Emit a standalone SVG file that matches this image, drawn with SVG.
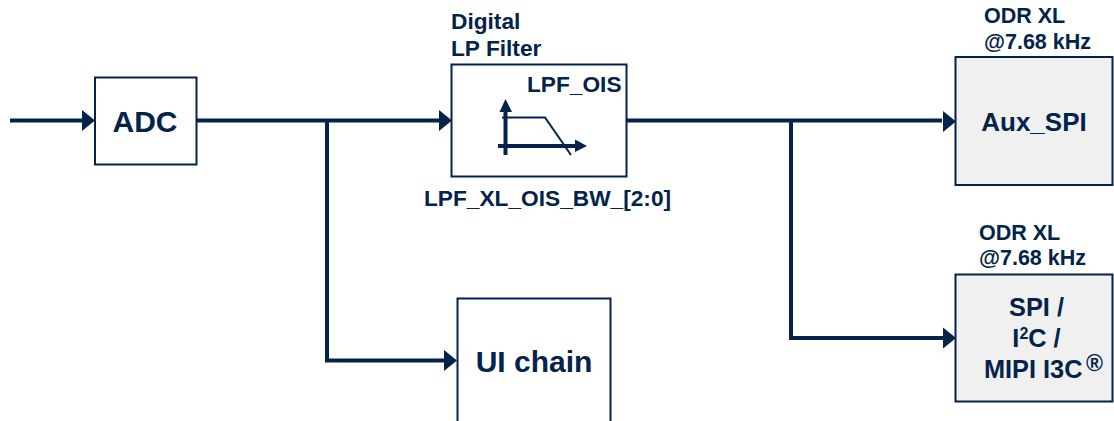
<svg xmlns="http://www.w3.org/2000/svg" width="1114" height="421" viewBox="0 0 1114 421">
<style>
text{font-family:"Liberation Sans",Arial,sans-serif;font-weight:bold;fill:#03234b}
.box{fill:#fff;stroke:#03234b;stroke-width:2}
.grey{fill:#f0f0f0;stroke:#03234b;stroke-width:2}
.wire{fill:none;stroke:#03234b;stroke-width:4}
.thin{fill:none;stroke:#03234b;stroke-width:2}
.head{fill:#03234b}
.s21{font-size:21.500px}
.s22{font-size:22.700px}
.s25{font-size:25.300px}
.s26{font-size:26px}
.s30{font-size:30px}
.m{text-anchor:middle}
</style>
<g id="connectors">
<path class="wire" d="M10 120.500H82"/>
<polygon class="head" points="82,110 95,120.500 82,131"/>
<path class="wire" d="M197 120.500H439"/>
<polygon class="head" points="439,110 452,120.500 439,131"/>
<path class="wire" d="M327 120.500V360.500H444"/>
<polygon class="head" points="444,350 457,360.500 444,371"/>
<path class="wire" d="M627 120.500H942"/>
<polygon class="head" points="943,111 956,121.500 943,132"/>
<path class="wire" d="M791 120.500V338H943"/>
<polygon class="head" points="943,327.500 956,338 943,348.500"/>
</g>
<g id="adc">
<rect class="box" x="95" y="77.500" width="101.500" height="87"/>
<text class="s30 m" x="145" y="132">ADC</text>
</g>
<g id="lpf">
<rect class="box" x="451.500" y="64.500" width="175" height="112"/>
<text class="s22" x="451" y="29">Digital</text>
<text class="s22" x="451" y="56">LP Filter</text>
<text class="s22" x="527" y="92">LPF_OIS</text>
<text class="s22" x="424" y="206">LPF_XL_OIS_BW_[2:0]</text>
<path class="wire" d="M505.500 155V110M498 146H576"/>
<polygon class="head" points="499.500,112 505.500,99 512,112"/>
<polygon class="head" points="575,139.500 587,146 575,152"/>
<path class="thin" d="M502 117.500H545L571 155"/>
</g>
<g id="ui-chain">
<rect class="box" x="457.500" y="298.500" width="153" height="124"/>
<text class="s30 m" x="534" y="372">UI chain</text>
</g>
<g id="aux-spi">
<rect class="grey" x="955.500" y="57" width="157" height="128"/>
<text class="s26 m" x="1034" y="131">Aux_SPI</text>
<text class="s21" x="984" y="23">ODR XL</text>
<text class="s21" x="984" y="49">@7.68 kHz</text>
</g>
<g id="spi-i2c-i3c">
<rect class="grey" x="955.500" y="274.500" width="157" height="127"/>
<text class="s25 m" x="1036.500" y="316">SPI /</text>
<text class="s25 m" x="1036.500" y="347">I<tspan font-size="16" dy="-8">2</tspan><tspan dy="8">C /</tspan></text>
<text class="s25" x="984" y="378">MIPI I3C</text>
<text font-size="23" x="1086" y="371">®</text>
<text class="s21" x="979" y="240">ODR XL</text>
<text class="s21" x="979" y="265">@7.68 kHz</text>
</g>
</svg>
